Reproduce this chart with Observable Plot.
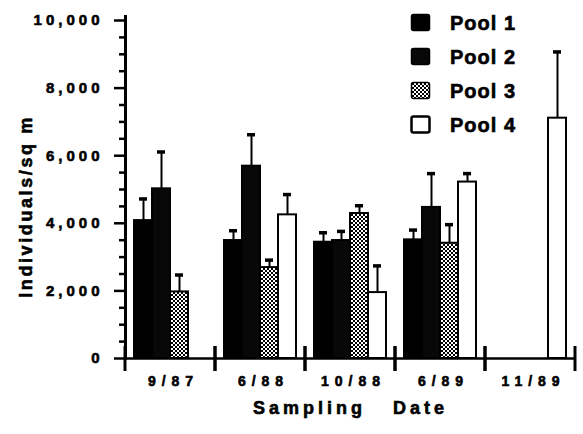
<!DOCTYPE html>
<html>
<head>
<meta charset="utf-8">
<script src="https://cdn.jsdelivr.net/npm/d3@7"></script>
<script src="https://cdn.jsdelivr.net/npm/@observablehq/plot@0.6"></script>
<style>
  html, body { margin: 0; padding: 0; background: #fff; }
  #wrap { position: relative; width: 583px; height: 434px; font-family: "Liberation Sans", Arial, sans-serif; font-weight: bold; }
  #wrap svg g[aria-label="y-axis tick label"] { font-size: 15px; letter-spacing: 4px; stroke: black; stroke-width: 0.6px; }
  #wrap svg g[aria-label="text"] { stroke: black; stroke-width: 0.6px; }
  #wrap svg g[aria-label="fx-axis tick label"] { font-size: 14px; letter-spacing: 6px; stroke: black; stroke-width: 0.6px; }
  #wrap svg g[aria-label="fx-axis label"] { font-size: 18px; letter-spacing: 4px; word-spacing: 18px; stroke: black; stroke-width: 0.6px; }
  #legend { position: absolute; left: 410px; top: 6px; }
  #legend .row { display: flex; align-items: center; height: 34px; }
  #legend .row span { font-size: 20px; letter-spacing: 1px; margin-left: 18px; line-height: 20px; -webkit-text-stroke: 0.6px black; }
  #legend svg { display: block; }
</style>
</head>
<body>
<div id="wrap"></div>
<script>
// ---- data ----
const dates = ["9/87", "6/88", "10/88", "6/89", "11/89"];
const pools = ["Pool 1", "Pool 2", "Pool 3", "Pool 4"];
// mean individuals per sq m, by date
const pool1 = [4080, 3490, 3440, 3510, null];
const pool2 = [5020, 5690, 3490, 4470, null];
const pool3 = [1970, 2690, 4290, 3410, null];
const pool4 = [null, 4250, 1950, 5220, 7110];
// upper error bar lengths
const pool1Err = [640, 290, 280, 290, null];
const pool2Err = [1090, 930, 270, 1000, null];
const pool3Err = [500, 220, 230, 550, null];
const pool4Err = [null, 600, 790, 250, 1960];
const yMajorTicks = [0, 2000, 4000, 6000, 8000, 10000];
const yMinorTicks = [500, 1000, 1500, 2500, 3000, 3500, 4500, 5000, 5500, 6500, 7000, 7500, 8500, 9000, 9500];
const yTitle = "Individuals/sq m";
const xTitle = "Sampling Date";
const poolFills = ["#000000", "#080808", "url(#stipple)", "#ffffff"];

// ---- table ----
const series = [pool1, pool2, pool3, pool4];
const errors = [pool1Err, pool2Err, pool3Err, pool4Err];
const rows = [];
dates.forEach((date, i) => {
  pools.forEach((pool, j) => {
    const v = series[j][i];
    if (v != null) rows.push({date, pool, value: v, err: errors[j][i], upper: v + errors[j][i]});
  });
});

// separator ticks on the category axis, at the edges of each date group
function separators(index, scales) {
  const [x0, x1] = scales.x.range();
  const y0 = scales.y(0);
  const g = d3.create("svg:g").attr("stroke", "black").attr("stroke-width", 3);
  for (const x of [x0, x1]) {
    g.append("line").attr("x1", x).attr("x2", x).attr("y1", y0 - 12).attr("y2", y0 + 13);
  }
  return g.node();
}

const chart = Plot.plot({
  width: 583,
  height: 434,
  marginLeft: 124,
  marginRight: 7,
  marginTop: 20,
  marginBottom: 76,
  style: {fontFamily: "'Liberation Sans', Arial, sans-serif", fontWeight: "bold", color: "black", background: "white"},
  fx: {domain: dates, padding: 0},
  x: {domain: pools, paddingInner: 0, paddingOuter: 0.45, axis: null},
  y: {domain: [0, 10000]},
  color: {domain: pools, range: poolFills},
  marks: [
    Plot.barY(rows, {fx: "date", x: "pool", y: "value", fill: "pool", stroke: "black", strokeWidth: 2}),
    Plot.ruleX(rows, {fx: "date", x: "pool", y1: "value", y2: "upper", stroke: "black", strokeWidth: 2}),
    Plot.tickY(rows, {fx: "date", x: "pool", y: "upper", stroke: "black", strokeWidth: 3.5, insetLeft: 5, insetRight: 5}),
    Plot.ruleY([0], {stroke: "black", strokeWidth: 2.5}),
    separators,
    Plot.frame({anchor: "left", facetAnchor: "left", stroke: "black", strokeWidth: 3, insetTop: -4}),
    Plot.axisY({ticks: yMajorTicks, tickSize: 11, tickPadding: 11, tickFormat: d3.format(","), strokeWidth: 2.5, label: null}),
    Plot.axisY({ticks: yMinorTicks, tickSize: 6, tickFormat: () => "", strokeWidth: 2.5, label: null}),
    Plot.text([yTitle], {frameAnchor: "left", facetAnchor: "left", rotate: -90, textAnchor: "middle", dx: -99, dy: 17,
      fontSize: 18, fontWeight: "bold", fill: "black"}),
    Plot.axisFx({anchor: "bottom", tickSize: 0, tickPadding: 18, dx: 3, label: xTitle, labelAnchor: "center", labelArrow: "none", labelOffset: 55})
  ]
});

// stipple pattern for Pool 3
const defs = d3.select(chart).insert("defs", ":first-child");
function addStipple(sel, id) {
  const p = sel.append("pattern").attr("id", id).attr("width", 4).attr("height", 4).attr("patternUnits", "userSpaceOnUse");
  p.append("rect").attr("width", 4).attr("height", 4).attr("fill", "white");
  p.append("rect").attr("width", 2).attr("height", 2).attr("fill", "black");
  p.append("rect").attr("x", 2).attr("y", 2).attr("width", 2).attr("height", 2).attr("fill", "black");
}
addStipple(defs, "stipple");
// letter spacing of the rotated y title
d3.select(chart).selectAll('g[aria-label="text"] text').style("letter-spacing", "2.6px");

const wrap = document.getElementById("wrap");
wrap.appendChild(chart);

// legend (overlaid at top right, as in the figure)
const legend = d3.select(wrap).append("div").attr("id", "legend");
pools.forEach((pool, j) => {
  const row = legend.append("div").attr("class", "row");
  const s = row.append("svg").attr("width", 22).attr("height", 20);
  s.append("rect").attr("x", 1.5).attr("y", 1.5).attr("width", 18).attr("height", 16).attr("rx", 2)
    .attr("fill", poolFills[j]).attr("stroke", "black").attr("stroke-width", j === 3 ? 2.5 : 1.5);
  row.append("span").text(pool);
});
</script>
</body>
</html>
